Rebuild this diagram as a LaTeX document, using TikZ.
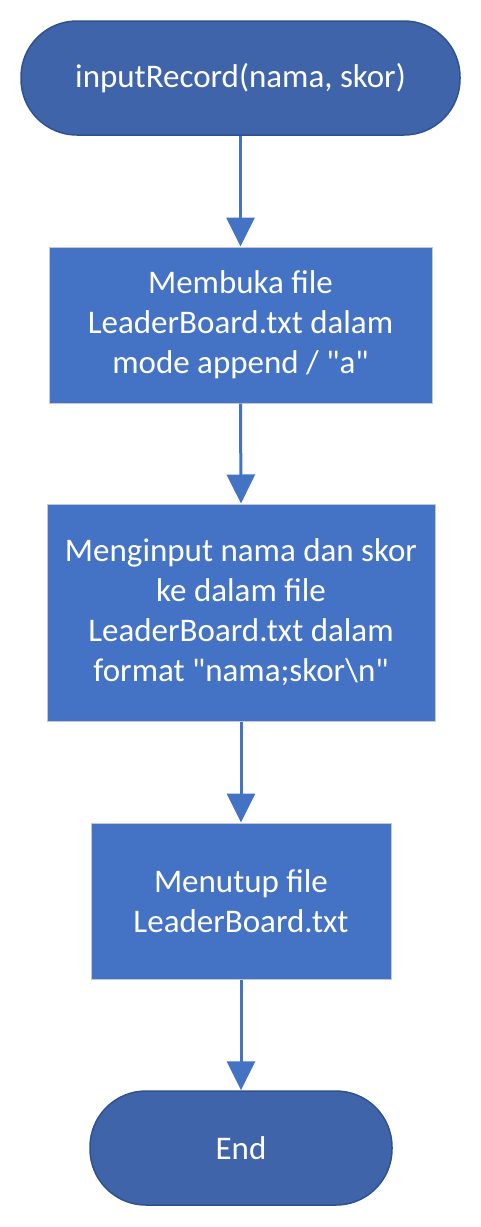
\documentclass[tikz,border=0pt]{standalone}
\usepackage{fontspec}
\setmainfont{Carlito}[Ligatures=TeXOff]
\usetikzlibrary{arrows.meta}
\definecolor{termfill}{HTML}{3F64AA}
\definecolor{termline}{HTML}{2F528F}
\definecolor{boxfill}{HTML}{4472C4}
\definecolor{boxline}{HTML}{C0C8D8}
\definecolor{arrowcol}{HTML}{4472C4}
\begin{document}
\begin{tikzpicture}[x=1pt,y=1pt,
  term/.style={draw=termline,fill=termfill,line width=1.5pt,rounded corners=56pt,
    text=white,align=center,font=\fontsize{33}{40}\selectfont,inner sep=0pt},
  proc/.style={draw=boxline,fill=boxfill,line width=1pt,
    text=white,align=center,font=\fontsize{33}{40}\selectfont,inner sep=0pt},
  flow/.style={draw=arrowcol,line width=3pt,-{Triangle[width=28pt,length=29pt]}}]
\useasboundingbox (0,0) rectangle (481,-1227);
\node[term,minimum width=439pt,minimum height=114pt] (start) at (240.5,-78) {inputRecord(nama, skor)};
\node[proc,minimum width=383pt,minimum height=156pt] (open) at (240.5,-325) {Membuka file\\LeaderBoard.txt dalam\\mode append / "a"};
\node[proc,minimum width=388pt,minimum height=217pt] (write) at (241,-612.5) {Menginput nama dan skor\\ke dalam file\\LeaderBoard.txt dalam\\format "nama;skor\textbackslash n"};
\node[proc,minimum width=300pt,minimum height=156pt] (close) at (241,-901) {Menutup file\\LeaderBoard.txt};
\node[term,minimum width=302pt,minimum height=114pt] (end) at (241,-1148) {End};
\draw[flow] (start.south) -- (open.north);
\draw[flow] (open.south) -- (write.north);
\draw[flow] (write.south) -- (close.north);
\draw[flow] (close.south) -- (end.north);
\end{tikzpicture}
\end{document}
